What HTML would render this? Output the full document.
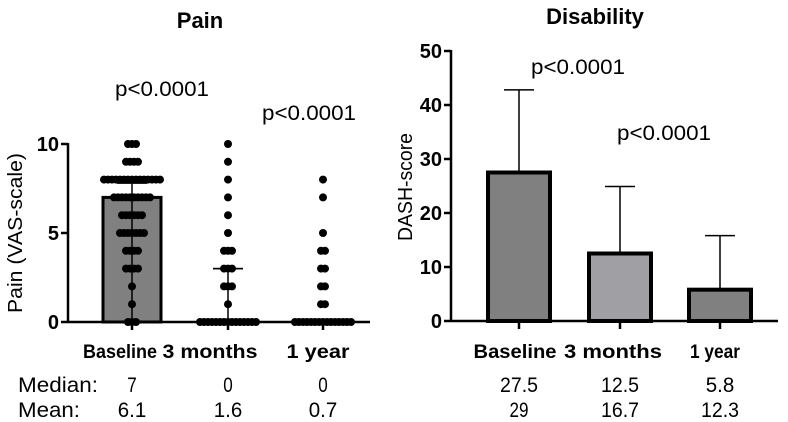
<!DOCTYPE html>
<html><head><meta charset="utf-8"><style>
html,body{margin:0;padding:0;background:#fff;}
svg{display:block;font-family:"Liberation Sans",sans-serif;}
</style></head><body>
<svg id="chart" width="788" height="422" viewBox="0 0 788 422">
<g id="left"></g>
<g id="right"></g>
</svg>
<script>
const painCats = ["Baseline","3 months","1 year"];
const painBarValues = [7, null, null];
const painMeanLineValues = [null, 3, null];
const painWhiskerTop = [7.8, 3, null];
const painLevels = [0,1,2,3,4,5,6,7,8,9,10];
const painDotCounts0 = [3,1,1,4,4,7,6,10,15,4,3];
const painDotCounts1 = [15,1,3,3,3,1,1,1,1,1,1];
const painDotCounts2 = [15,2,2,2,2,1,0,1,1,0,0];
const painYTicks = [0,5,10];
const medians1 = ["7","0","0"];
const means1 = ["6.1","1.6","0.7"];

const dashCats = ["Baseline","3 months","1 year"];
const dashValues = [27.5, 12.5, 5.8];
const dashErrTop = [42.8, 24.9, 15.8];
const dashYTicks = [0,10,20,30,40,50];
const medians2 = ["27.5","12.5","5.8"];
const means2 = ["29","16.7","12.3"];

const NS="http://www.w3.org/2000/svg";
function mk(parent,tag,attrs,text){const e=document.createElementNS(NS,tag);for(const k in attrs)e.setAttribute(k,attrs[k]);if(text!==undefined)e.textContent=text;parent.appendChild(e);return e;}

// ---- Left: Pain ----
const L=document.getElementById('left');
const lx0=68, lxEnd=370, ly0=322, ly10=144;
const ly=v=>ly0+(ly10-ly0)*v/10;
const lcx=i=>[132,228,323][i];
let t;
t=mk(L,'text',{x:200,y:28,'text-anchor':'middle','font-size':22,'font-weight':'bold'},'Pain');


painBarValues.forEach((v,i)=>{ if(v===null)return;
 const r=mk(L,'rect',{x:lcx(i)-29,y:ly(v),width:58,height:ly0-ly(v),fill:'#808080',stroke:'#000','stroke-width':3});
 
 
});
painWhiskerTop.forEach((v,i)=>{ if(v===null)return;
 mk(L,'line',{x1:lcx(i),x2:lcx(i),y1:ly(0),y2:ly(v),stroke:'#000','stroke-width':1.5});
 const c=mk(L,'line',{x1:lcx(i)-15,x2:lcx(i)+15,y1:ly(v),y2:ly(v),stroke:'#000','stroke-width':1.5});
 
 
});
painMeanLineValues.forEach((v,i)=>{ if(v===null)return;
 const m=mk(L,'line',{x1:lcx(i)-15,x2:lcx(i)+15,y1:ly(v),y2:ly(v),stroke:'#000','stroke-width':1.5});
 
 
});
[painDotCounts0,painDotCounts1,painDotCounts2].forEach((counts,g)=>{
 counts.forEach((n,li)=>{
  for(let k=0;k<n;k++){
   const x=lcx(g)+(k-(n-1)/2)*4;
   const d=mk(L,'circle',{cx:x,cy:ly(painLevels[li]),r:4,fill:'#000'});
   
   
  }
 });
});
mk(L,'line',{x1:lx0,x2:lx0,y1:ly10-1,y2:ly0+1,stroke:'#000','stroke-width':2.5});
mk(L,'line',{x1:lx0,x2:lxEnd,y1:ly0,y2:ly0,stroke:'#000','stroke-width':2.5});
painYTicks.forEach(v=>{
 mk(L,'line',{x1:lx0-7,x2:lx0,y1:ly(v),y2:ly(v),stroke:'#000','stroke-width':2.5});
 const tl=mk(L,'text',{x:lx0-9,y:ly(v)+7,'text-anchor':'end','font-size':20,'font-weight':'bold'},v);
 
 
});
painCats.forEach((c,i)=>{
 mk(L,'line',{x1:lcx(i),x2:lcx(i),y1:ly0,y2:ly0+8,stroke:'#000','stroke-width':2.5});
 const tl=mk(L,'text',{x:[120,210,318][i],y:358,'text-anchor':'middle','font-size':19,'font-weight':'bold',textLength:[74,95,63][i],lengthAdjust:'spacingAndGlyphs'},c);
 
 
});
t=mk(L,'text',{transform:'translate(22,233) rotate(-90)','text-anchor':'middle','font-size':20,textLength:160,lengthAdjust:'spacingAndGlyphs'},'Pain (VAS-scale)');


t=mk(L,'text',{x:115,y:96,'font-size':21,textLength:94,lengthAdjust:'spacingAndGlyphs'},'p<0.0001');


t=mk(L,'text',{x:262,y:120,'font-size':21,textLength:94,lengthAdjust:'spacingAndGlyphs'},'p<0.0001');


t=mk(L,'text',{x:18,y:392,'font-size':21,textLength:80,lengthAdjust:'spacingAndGlyphs'},'Median:');


t=mk(L,'text',{x:18,y:417,'font-size':21,textLength:62,lengthAdjust:'spacingAndGlyphs'},'Mean:');


[medians1,means1].forEach((arr,r)=>arr.forEach((s,i)=>{
 const tv=mk(L,'text',{x:lcx(i),y:392+25*r,'text-anchor':'middle','font-size':21,textLength:s.length*9.5,lengthAdjust:'spacingAndGlyphs'},s);
 
 
}));

// ---- Right: Disability ----
const R=document.getElementById('right');
const rx0=451, rxEnd=778, ry0=321, ry50=51;
const ry=v=>ry0+(ry50-ry0)*v/50;
const rcx=i=>[519,620,720][i];
const barFill=['#808080','#a0a0a4','#808080'];
t=mk(R,'text',{x:595,y:24,'text-anchor':'middle','font-size':22,'font-weight':'bold'},'Disability');


dashValues.forEach((v,i)=>{
 mk(R,'line',{x1:rcx(i),x2:rcx(i),y1:ry(v),y2:ry(dashErrTop[i]),stroke:'#000','stroke-width':1.5});
 const c=mk(R,'line',{x1:rcx(i)-15,x2:rcx(i)+15,y1:ry(dashErrTop[i]),y2:ry(dashErrTop[i]),stroke:'#000','stroke-width':1.5});
 
 
 const b=mk(R,'rect',{x:rcx(i)-31,y:ry(v),width:62,height:ry0-ry(v),fill:barFill[i],stroke:'#000','stroke-width':4});
 
 
});
mk(R,'line',{x1:rx0,x2:rx0,y1:ry50-1,y2:ry0+1,stroke:'#000','stroke-width':2.5});
mk(R,'line',{x1:rx0,x2:rxEnd,y1:ry0,y2:ry0,stroke:'#000','stroke-width':2.5});
dashYTicks.forEach(v=>{
 mk(R,'line',{x1:rx0-7,x2:rx0,y1:ry(v),y2:ry(v),stroke:'#000','stroke-width':2.5});
 const tl=mk(R,'text',{x:rx0-9,y:ry(v)+7,'text-anchor':'end','font-size':20,'font-weight':'bold'},v);
 
 
});
dashCats.forEach((c,i)=>{
 mk(R,'line',{x1:rcx(i),x2:rcx(i),y1:ry0,y2:ry0+8,stroke:'#000','stroke-width':2.5});
 const tl=mk(R,'text',{x:[515,613,715][i],y:358,'text-anchor':'middle','font-size':19,'font-weight':'bold',textLength:[83,98,50][i],lengthAdjust:'spacingAndGlyphs'},c);
 
 
});
t=mk(R,'text',{transform:'translate(412,187) rotate(-90)','text-anchor':'middle','font-size':20,textLength:108,lengthAdjust:'spacingAndGlyphs'},'DASH-score');


t=mk(R,'text',{x:531,y:74,'font-size':21,textLength:94,lengthAdjust:'spacingAndGlyphs'},'p<0.0001');


t=mk(R,'text',{x:617,y:140,'font-size':21,textLength:94,lengthAdjust:'spacingAndGlyphs'},'p<0.0001');


[medians2,means2].forEach((arr,r)=>arr.forEach((s,i)=>{
 const tv=mk(R,'text',{x:rcx(i),y:392+25*r,'text-anchor':'middle','font-size':21,textLength:s.length*9.5,lengthAdjust:'spacingAndGlyphs'},s);
 
 
}));
</script>
</body></html>
